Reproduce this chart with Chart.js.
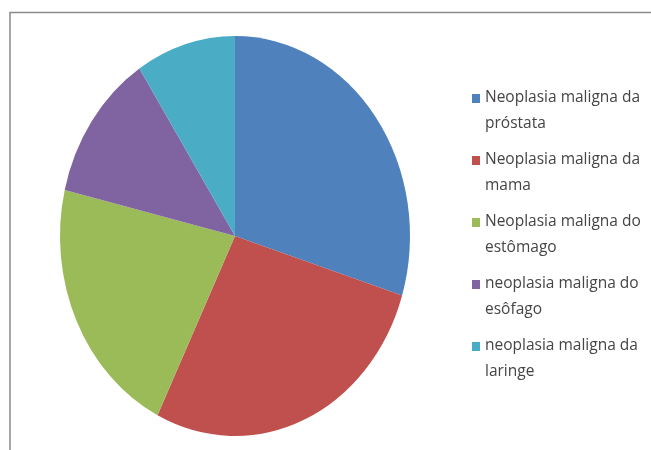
<!DOCTYPE html>
<html>
<head>
<meta charset="utf-8">
<script src="https://cdn.jsdelivr.net/npm/chart.js@4.4.1/dist/chart.umd.min.js"></script>
<style>
  html, body { margin: 0; padding: 0; background: #fff; }
  #wrap { width: 651px; height: 450px; }
</style>
</head>
<body>
<div id="wrap"><canvas id="pie" width="651" height="450"></canvas></div>
<script>
// dados do gráfico (percentual estimado por fatia)
const categories = [
  ['Neoplasia maligna da', 'próstata'],
  ['Neoplasia maligna da', 'mama'],
  ['Neoplasia maligna do', 'estômago'],
  ['neoplasia maligna do', 'esôfago'],
  ['neoplasia maligna da', 'laringe'],
];
const values = [29.8, 27.5, 21.4, 12.1, 9.2];
const colors = ['#4F81BD', '#C0504D', '#9BBB59', '#8064A2', '#4BACC6'];

// moldura cinza (topo e lado esquerdo)
const framePlugin = {
  id: 'frame',
  beforeDraw(chart) {
    const ctx = chart.ctx;
    ctx.save();
    ctx.fillStyle = '#fff';
    ctx.fillRect(0, 0, chart.width, chart.height);
    ctx.strokeStyle = '#8a8a8a';
    ctx.lineWidth = 1.5;
    ctx.beginPath();
    ctx.moveTo(10, chart.height);
    ctx.lineTo(10, 12.5);
    ctx.lineTo(chart.width, 12.5);
    ctx.stroke();
    ctx.restore();
  },
};

// achata a pizza na horizontal, como no original
const squashPlugin = {
  id: 'squash',
  beforeDatasetsDraw(chart) {
    const arc = chart.getDatasetMeta(0).data[0];
    const ctx = chart.ctx;
    ctx.save();
    ctx.translate(arc.x, arc.y);
    ctx.scale(175 / 200, 1);
    ctx.translate(-arc.x, -arc.y);
  },
  afterDatasetsDraw(chart) {
    chart.ctx.restore();
  },
};

// legenda com rótulos em duas linhas
const legendPlugin = {
  id: 'twoLineLegend',
  afterDraw(chart) {
    const ctx = chart.ctx;
    const labels = chart.data.labels;
    const bg = chart.data.datasets[0].backgroundColor;
    ctx.save();
    ctx.font = '15.5px "Open Sans"';
    ctx.textBaseline = 'middle';
    labels.forEach((lines, i) => {
      const y = 98 + i * 62;
      ctx.fillStyle = bg[i];
      ctx.fillRect(472, y - 4, 8, 9);
      ctx.fillStyle = '#454545';
      lines.forEach((line, j) => ctx.fillText(line, 485, y + j * 26));
    });
    ctx.restore();
  },
};

new Chart(document.getElementById('pie'), {
  type: 'pie',
  data: {
    labels: categories,
    datasets: [{
      data: values,
      backgroundColor: colors,
      borderWidth: 0,
    }],
  },
  options: {
    responsive: false,
    animation: false,
    layout: { padding: { left: 35, right: 216, top: 36, bottom: 14 } },
    plugins: {
      legend: { display: false },
      tooltip: { enabled: false },
    },
  },
  plugins: [framePlugin, squashPlugin, legendPlugin],
});
</script>
</body>
</html>
